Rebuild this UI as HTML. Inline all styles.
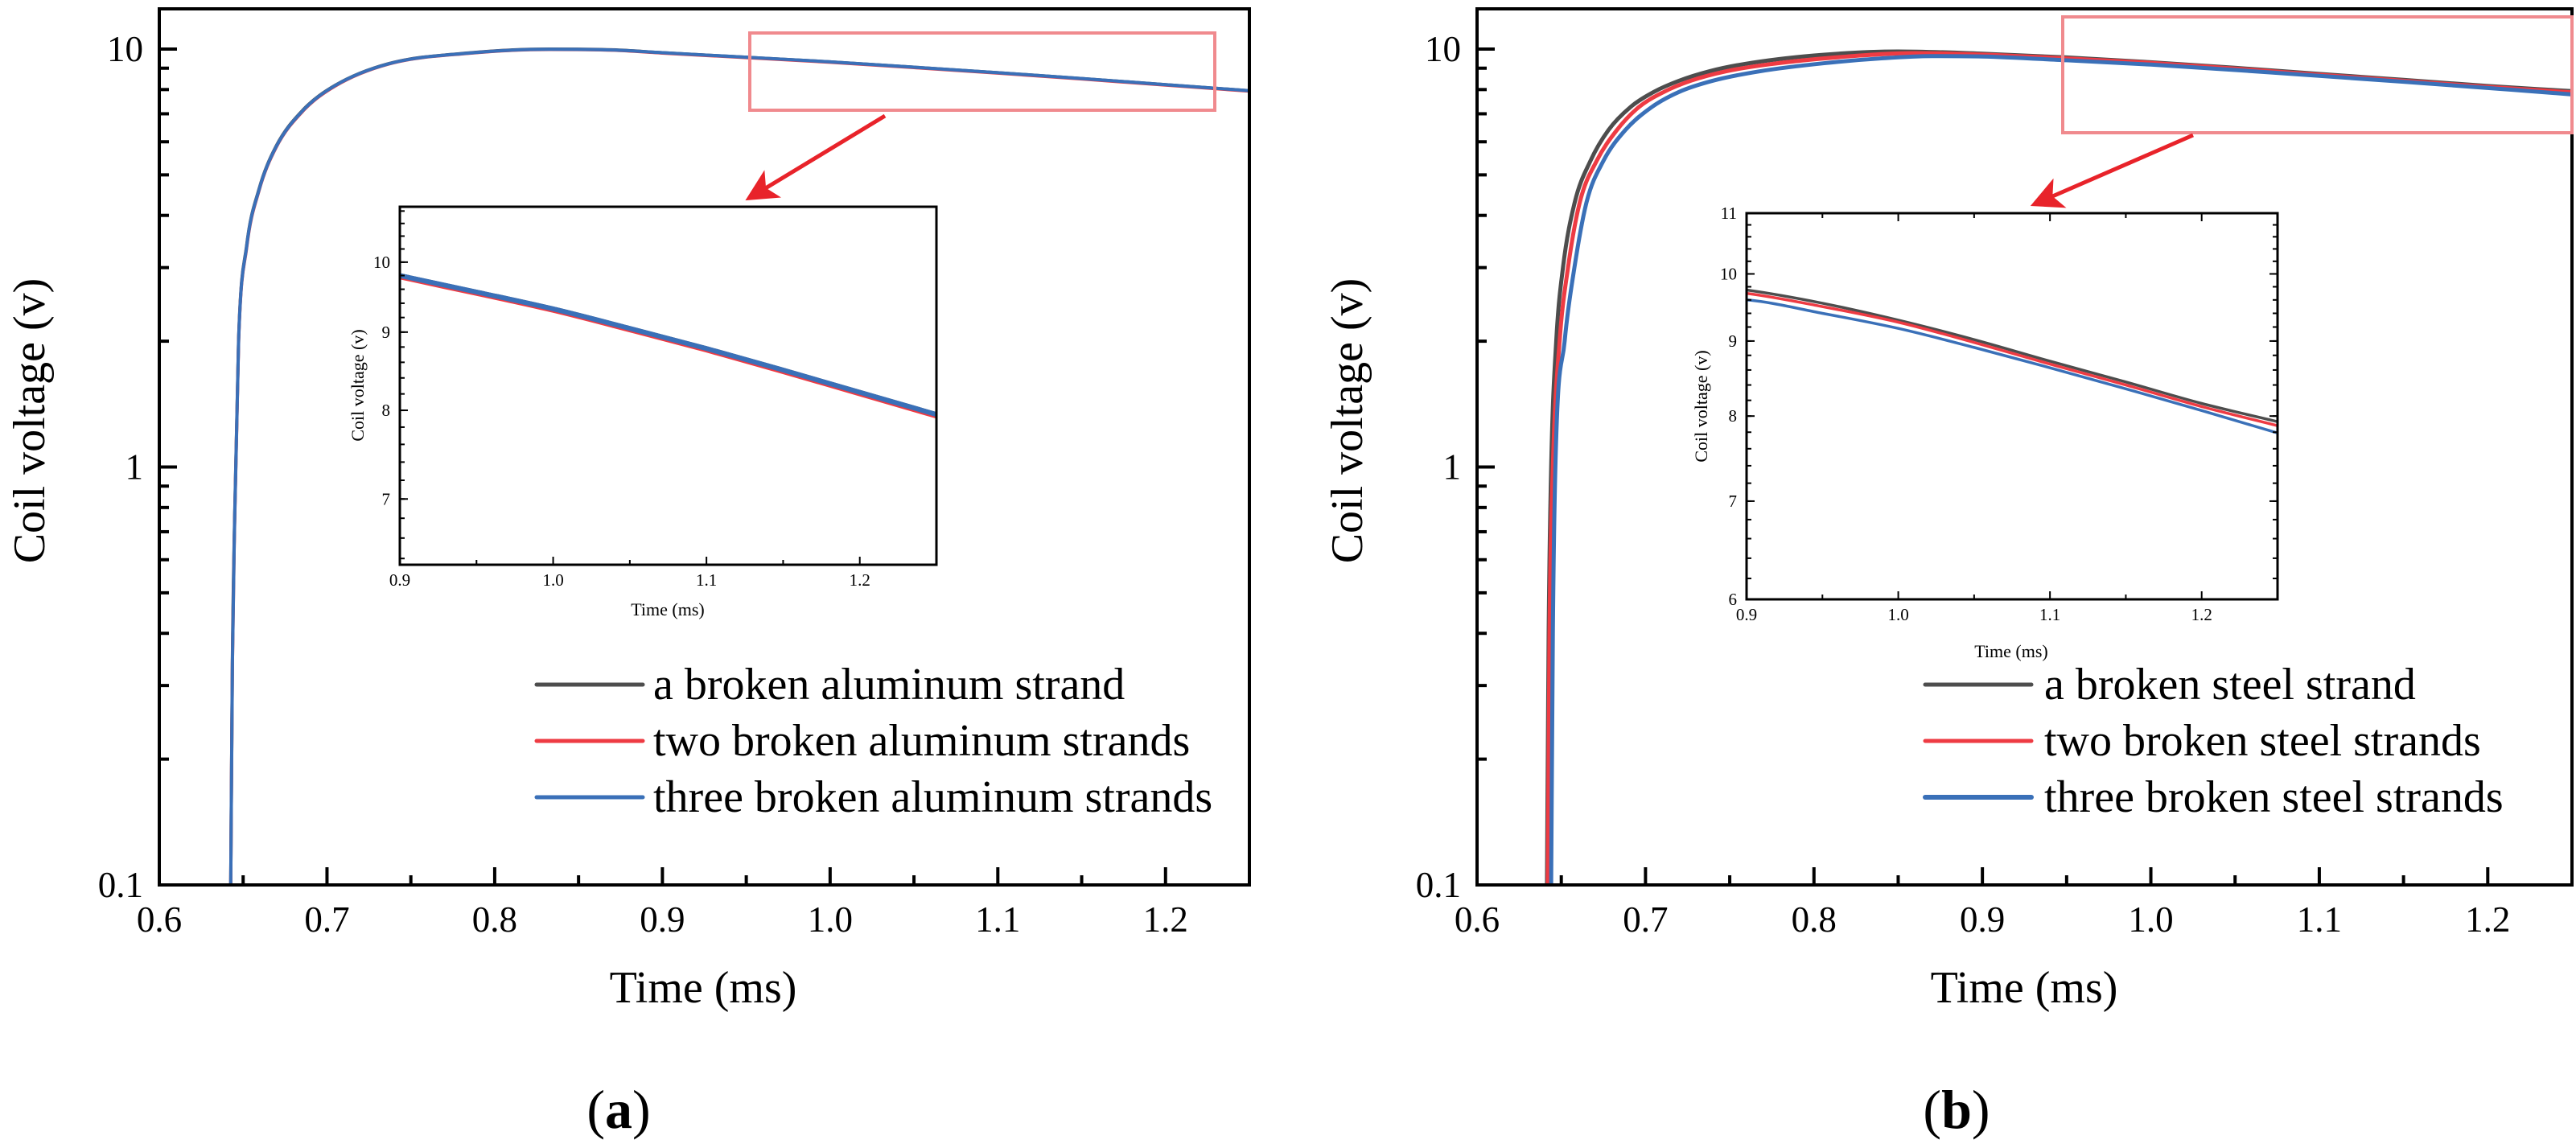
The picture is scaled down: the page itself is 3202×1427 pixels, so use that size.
<!DOCTYPE html>
<html><head><meta charset="utf-8"><style>
html,body{margin:0;padding:0;background:#fff;overflow:hidden;width:3202px;height:1427px;}
svg{display:block;}
text{font-family:"Liberation Serif","DejaVu Serif",serif;}
</style></head><body>
<svg id="fig" width="3202" height="1427" viewBox="0 0 3202 1427" xmlns="http://www.w3.org/2000/svg">
<defs><marker id="ah" markerWidth="8" markerHeight="8" refX="6" refY="4" orient="auto" markerUnits="strokeWidth"><path d="M0,0 L8,4 L0,8 L2,4 z" fill="#e8232a"/></marker></defs>
</svg>
<script>
// ---------- data ----------
const aTime   = [0.6426,0.6436,0.645,0.6473,0.6521,0.6593,0.6696,0.6857,0.7049,0.7368,0.7847,0.8326,0.87,0.90,0.95,1.0,1.05,1.1,1.15,1.2,1.25];
const aBlack  = [0.1,0.35,0.78,2.03,3.39,4.6,5.85,7.15,8.19,9.23,9.79,10.0,9.96,9.8,9.56,9.32,9.05,8.78,8.5,8.22,7.95];
const aRed    = [0.1,0.34,0.76,2.0,3.35,4.56,5.81,7.11,8.16,9.21,9.77,9.98,9.94,9.78,9.54,9.3,9.03,8.76,8.48,8.2,7.93];
const aBlue   = [0.1,0.34,0.77,2.01,3.37,4.58,5.83,7.13,8.18,9.22,9.78,9.99,9.95,9.8,9.56,9.32,9.05,8.78,8.5,8.22,7.95];

const bBlackT = [0.6415,0.6425,0.644,0.647,0.651,0.658,0.6673,0.678,0.691,0.705,0.72,0.738,0.758,0.8,0.85,0.9,0.95,1.0,1.05,1.1,1.15,1.2,1.25];
const bBlack  = [0.1,0.4,1.0,2.0,3.0,4.3,5.4,6.4,7.26,7.9,8.4,8.85,9.2,9.65,9.87,9.75,9.55,9.30,9.02,8.72,8.44,8.16,7.93];
const bRedT   = [0.642,0.643,0.645,0.649,0.654,0.661,0.671,0.683,0.696,0.711,0.727,0.748,0.774,0.82,0.86,0.9,0.95,1.0,1.05,1.1,1.15,1.2,1.25];
const bRed    = [0.1,0.4,1.0,2.0,3.0,4.3,5.4,6.4,7.26,7.9,8.4,8.85,9.2,9.6,9.78,9.7,9.5,9.27,8.98,8.68,8.40,8.12,7.88];
const bBlueT  = [0.644,0.645,0.6465,0.652,0.6578,0.665,0.675,0.688,0.7036,0.72,0.74,0.768,0.806,0.84,0.87,0.9,0.95,1.0,1.05,1.1,1.15,1.2,1.25];
const bBlue   = [0.1,0.4,1.0,2.0,3.0,4.3,5.4,6.4,7.26,7.9,8.4,8.85,9.25,9.5,9.62,9.6,9.40,9.18,8.91,8.63,8.35,8.07,7.79];

const xTickLabels = ['0.6','0.7','0.8','0.9','1.0','1.1','1.2'];
const yTickLabels = ['0.1','1','10'];
const insetXTickLabels = ['0.9','1.0','1.1','1.2'];
const insetAYTicks = [7,8,9,10];
const insetBYTicks = [6,7,8,9,10,11];

const COLORS = {black:'#4d4d4d', red:'#ee3b43', blue:'#3a70b8'};
const FONT = '"Liberation Serif", "DejaVu Serif", serif';
const svg = document.getElementById('fig');
const NS = 'http://www.w3.org/2000/svg';
function mk(tag, attrs, parent){const e=document.createElementNS(NS,tag);for(const k in attrs)e.setAttribute(k,attrs[k]);(parent||svg).appendChild(e);return e;}
function txt(s, attrs, parent){attrs['font-family']=FONT;const e=mk('text',attrs,parent);e.textContent=s;return e;}

function makeAxes(L,R,T,B,xmin,xmax,ymin,ymax){
  const lx=v=>L+(v-xmin)/(xmax-xmin)*(R-L);
  const ly=v=>B-(Math.log10(v)-Math.log10(ymin))/(Math.log10(ymax)-Math.log10(ymin))*(B-T);
  return {lx,ly,L,R,T,B};
}
function smoothPath(X,Y){
  const n=X.length;const d=[],m=new Array(n);
  for(let i=0;i<n-1;i++)d.push((Y[i+1]-Y[i])/(X[i+1]-X[i]));
  m[0]=d[0];m[n-1]=d[n-2];
  for(let i=1;i<n-1;i++){m[i]=(d[i-1]*d[i]<=0)?0:(d[i-1]+d[i])/2;}
  for(let i=0;i<n-1;i++){
    if(d[i]===0){m[i]=0;m[i+1]=0;continue;}
    const a=m[i]/d[i],b=m[i+1]/d[i],s=a*a+b*b;
    if(s>9){const t=3/Math.sqrt(s);m[i]=t*a*d[i];m[i+1]=t*b*d[i];}
  }
  let p='M'+X[0].toFixed(1)+','+Y[0].toFixed(1);
  for(let i=0;i<n-1;i++){
    const h=(X[i+1]-X[i])/3;
    p+='C'+(X[i]+h).toFixed(2)+','+(Y[i]+m[i]*h).toFixed(2)+' '+(X[i+1]-h).toFixed(2)+','+(Y[i+1]-m[i+1]*h).toFixed(2)+' '+X[i+1].toFixed(2)+','+Y[i+1].toFixed(2);
  }
  return p;
}
function curve(ax, ts, vs, color, w, name, parent){
  const X=ts.map(ax.lx),Y=vs.map(ax.ly);
  const p=mk('path',{d:smoothPath(X,Y),fill:'none',stroke:color,'stroke-width':w,'stroke-linejoin':'round'},parent);
  
  
  return p;
}

function mainPanel(id, L, R, series, legendTexts, legX, textX, titleX, panelLetter, panelLabelX){
  const g=mk('g',{});
  
  
  const T=11,B=1100;
  const ax=makeAxes(L,R,T,B,0.6,1.25,0.1,12.48);
  const cp=mk('clipPath',{id:'clip'+id},g); mk('rect',{x:L,y:T,width:R-L,height:B-T},cp);
  const cg=mk('g',{'clip-path':'url(#clip'+id+')'},g);
  series.forEach(s=>curve(ax,s.t,s.v,s.c,s.w,id+'-'+s.n+'-curve',cg));
  for(let i=0;i<xTickLabels.length;i++){
    const v=parseFloat(xTickLabels[i]);const x=ax.lx(v);
    mk('line',{x1:x,y1:B,x2:x,y2:B-22,stroke:'#000','stroke-width':4},g);
    const l=txt(xTickLabels[i],{x:x,y:1158,'font-size':45,'text-anchor':'middle'},g);
    
    
    if(v+0.05<1.25){const xm=ax.lx(v+0.05);mk('line',{x1:xm,y1:B,x2:xm,y2:B-12,stroke:'#000','stroke-width':4},g);}
  }
  for(let i=0;i<yTickLabels.length;i++){
    const v=parseFloat(yTickLabels[i]);const y=ax.ly(v);
    mk('line',{x1:L,y1:y,x2:L+22,y2:y,stroke:'#000','stroke-width':4},g);
    const l=txt(yTickLabels[i],{x:L-20,y:y+15,'font-size':45,'text-anchor':'end'},g);
    
    
    if(v<10){for(let k=2;k<=9;k++){const ym=ax.ly(v*k);mk('line',{x1:L,y1:ym,x2:L+12,y2:ym,stroke:'#000','stroke-width':4},g);}}
  }
  const fr=mk('rect',{x:L,y:T,width:R-L,height:B-T,fill:'none',stroke:'#000','stroke-width':4},g);
  
  
  const yt=txt('Coil voltage (v)',{x:0,y:0,'font-size':56,'text-anchor':'middle',transform:'translate('+(L-143)+',523) rotate(-90)'},g);
  
  
  const xt=txt('Time (ms)',{x:titleX,y:1246,'font-size':56,'text-anchor':'middle'},g);
  
  
  const pl=txt('',{x:panelLabelX,y:1402,'font-size':68,'text-anchor':'middle'},g);
  
  
  const s1=document.createElementNS(NS,'tspan');s1.textContent='(';pl.appendChild(s1);
  const s2=document.createElementNS(NS,'tspan');s2.setAttribute('font-weight','bold');s2.textContent=panelLetter;pl.appendChild(s2);
  const s3=document.createElementNS(NS,'tspan');s3.textContent=')';pl.appendChild(s3);
  const rows=[851,921,991];
  const cols=[COLORS.black,COLORS.red,COLORS.blue];
  for(let i=0;i<3;i++){
    const lg=mk('g',{},g);
    
    
    mk('line',{x1:legX,y1:rows[i],x2:legX+132,y2:rows[i],stroke:cols[i],'stroke-width':i==2&&id=='b'?6:5,'stroke-linecap':'round'},lg);
    txt(legendTexts[i],{x:textX,y:rows[i]+18,'font-size':56},lg);
  }
  return ax;
}

function inset(id,L,R,T,B,ymin,ymax,yticks,series,w,topRightTicks,lbl){
  const g=mk('g',{});
  
  
  mk('rect',{x:L,y:T,width:R-L,height:B-T,fill:'#fff'},g);
  const ax=makeAxes(L,R,T,B,0.9,1.25,ymin,ymax);
  const cp=mk('clipPath',{id:'iclip'+id},g); mk('rect',{x:L,y:T,width:R-L,height:B-T},cp);
  const cg=mk('g',{'clip-path':'url(#iclip'+id+')'},g);
  series.forEach(s=>{const k=s.t.findIndex(t=>t>=0.85);curve(ax,s.t.slice(k),s.v.slice(k),s.c,w,id+'-inset-'+s.n+'-curve',cg);});
  for(let i=0;i<insetXTickLabels.length;i++){
    const v=parseFloat(insetXTickLabels[i]);const x=ax.lx(v);
    mk('line',{x1:x,y1:B,x2:x,y2:B-10,stroke:'#000','stroke-width':2},g);
    if(topRightTicks)mk('line',{x1:x,y1:T,x2:x,y2:T+10,stroke:'#000','stroke-width':2},g);
    const xm=ax.lx(v+0.05);
    if(v+0.05<1.25){mk('line',{x1:xm,y1:B,x2:xm,y2:B-6,stroke:'#000','stroke-width':2},g);
      if(topRightTicks)mk('line',{x1:xm,y1:T,x2:xm,y2:T+6,stroke:'#000','stroke-width':2},g);}
    const l=txt(insetXTickLabels[i],{x:x,y:B+26,'font-size':21,'text-anchor':'middle'},g);
    
    
  }
  for(let i=0;i<yticks.length;i++){
    const y=ax.ly(yticks[i]);
    mk('line',{x1:L,y1:y,x2:L+10,y2:y,stroke:'#000','stroke-width':2},g);
    if(topRightTicks)mk('line',{x1:R,y1:y,x2:R-10,y2:y,stroke:'#000','stroke-width':2},g);
    const l=txt(String(yticks[i]),{x:L-12,y:y+7,'font-size':21,'text-anchor':'end'},g);
    
    
  }
  for(let m=Math.ceil(ymin*5)/5;m<ymax;m+=0.2){
    const y=ax.ly(m);
    mk('line',{x1:L,y1:y,x2:L+6,y2:y,stroke:'#000','stroke-width':2},g);
    if(topRightTicks)mk('line',{x1:R,y1:y,x2:R-6,y2:y,stroke:'#000','stroke-width':2},g);
  }
  mk('rect',{x:L,y:T,width:R-L,height:B-T,fill:'none',stroke:'#000','stroke-width':3},g);
  const yt=txt('Coil voltage (v)',{x:0,y:0,'font-size':22,'text-anchor':'middle',transform:'translate('+lbl.yx+','+lbl.yy+') rotate(-90)'},g);
  
  
  const xt=txt('Time (ms)',{x:lbl.tx,y:lbl.ty,'font-size':22,'text-anchor':'middle'},g);
  
  
}

function zoomBox(id,x1,y1,x2,y2,ax1,ay1,ax2,ay2){
  const r=mk('rect',{x:x1,y:y1,width:x2-x1,height:y2-y1,fill:'none',stroke:'#f08a8e','stroke-width':4});
  
  
  const a=mk('line',{x1:ax1,y1:ay1,x2:ax2,y2:ay2,stroke:'#e8232a','stroke-width':5,'marker-end':'url(#ah)'});
  
  
}

mainPanel('a',198,1553,[
  {t:aTime,v:aBlack,c:COLORS.black,w:4,n:'one-strand'},
  {t:aTime,v:aRed,c:COLORS.red,w:4,n:'two-strands'},
  {t:aTime,v:aBlue,c:COLORS.blue,w:4,n:'three-strands'}],
  ['a broken aluminum strand','two broken aluminum strands','three broken aluminum strands'],
  667,812,874,'a',769);
mainPanel('b',1836,3197,[
  {t:bBlackT,v:bBlack,c:COLORS.black,w:5,n:'one-strand'},
  {t:bRedT,v:bRed,c:COLORS.red,w:5,n:'two-strands'},
  {t:bBlueT,v:bBlue,c:COLORS.blue,w:5,n:'three-strands'}],
  ['a broken steel strand','two broken steel strands','three broken steel strands'],
  2393,2541,2516,'b',2432);

zoomBox('a',932,41,1510,137,1100,144,935,244);
zoomBox('b',2564,21,3197,165,2726,168,2533,252);

inset('a',497,1164,257,702,6.34,10.87,insetAYTicks,[
  {t:aTime,v:aBlack,c:COLORS.black,n:'one-strand'},
  {t:aTime,v:aRed,c:COLORS.red,n:'two-strands'},
  {t:aTime,v:aBlue,c:COLORS.blue,n:'three-strands'}],6,false,{yx:452,yy:479,tx:830,ty:765});
inset('b',2171,2831,265,745,6,11,insetBYTicks,[
  {t:bBlackT,v:bBlack,c:COLORS.black,n:'one-strand'},
  {t:bRedT,v:bRed,c:COLORS.red,n:'two-strands'},
  {t:bBlueT,v:bBlue,c:COLORS.blue,n:'three-strands'}],3.5,true,{yx:2122,yy:505,tx:2500,ty:817});
</script>
</body></html>
